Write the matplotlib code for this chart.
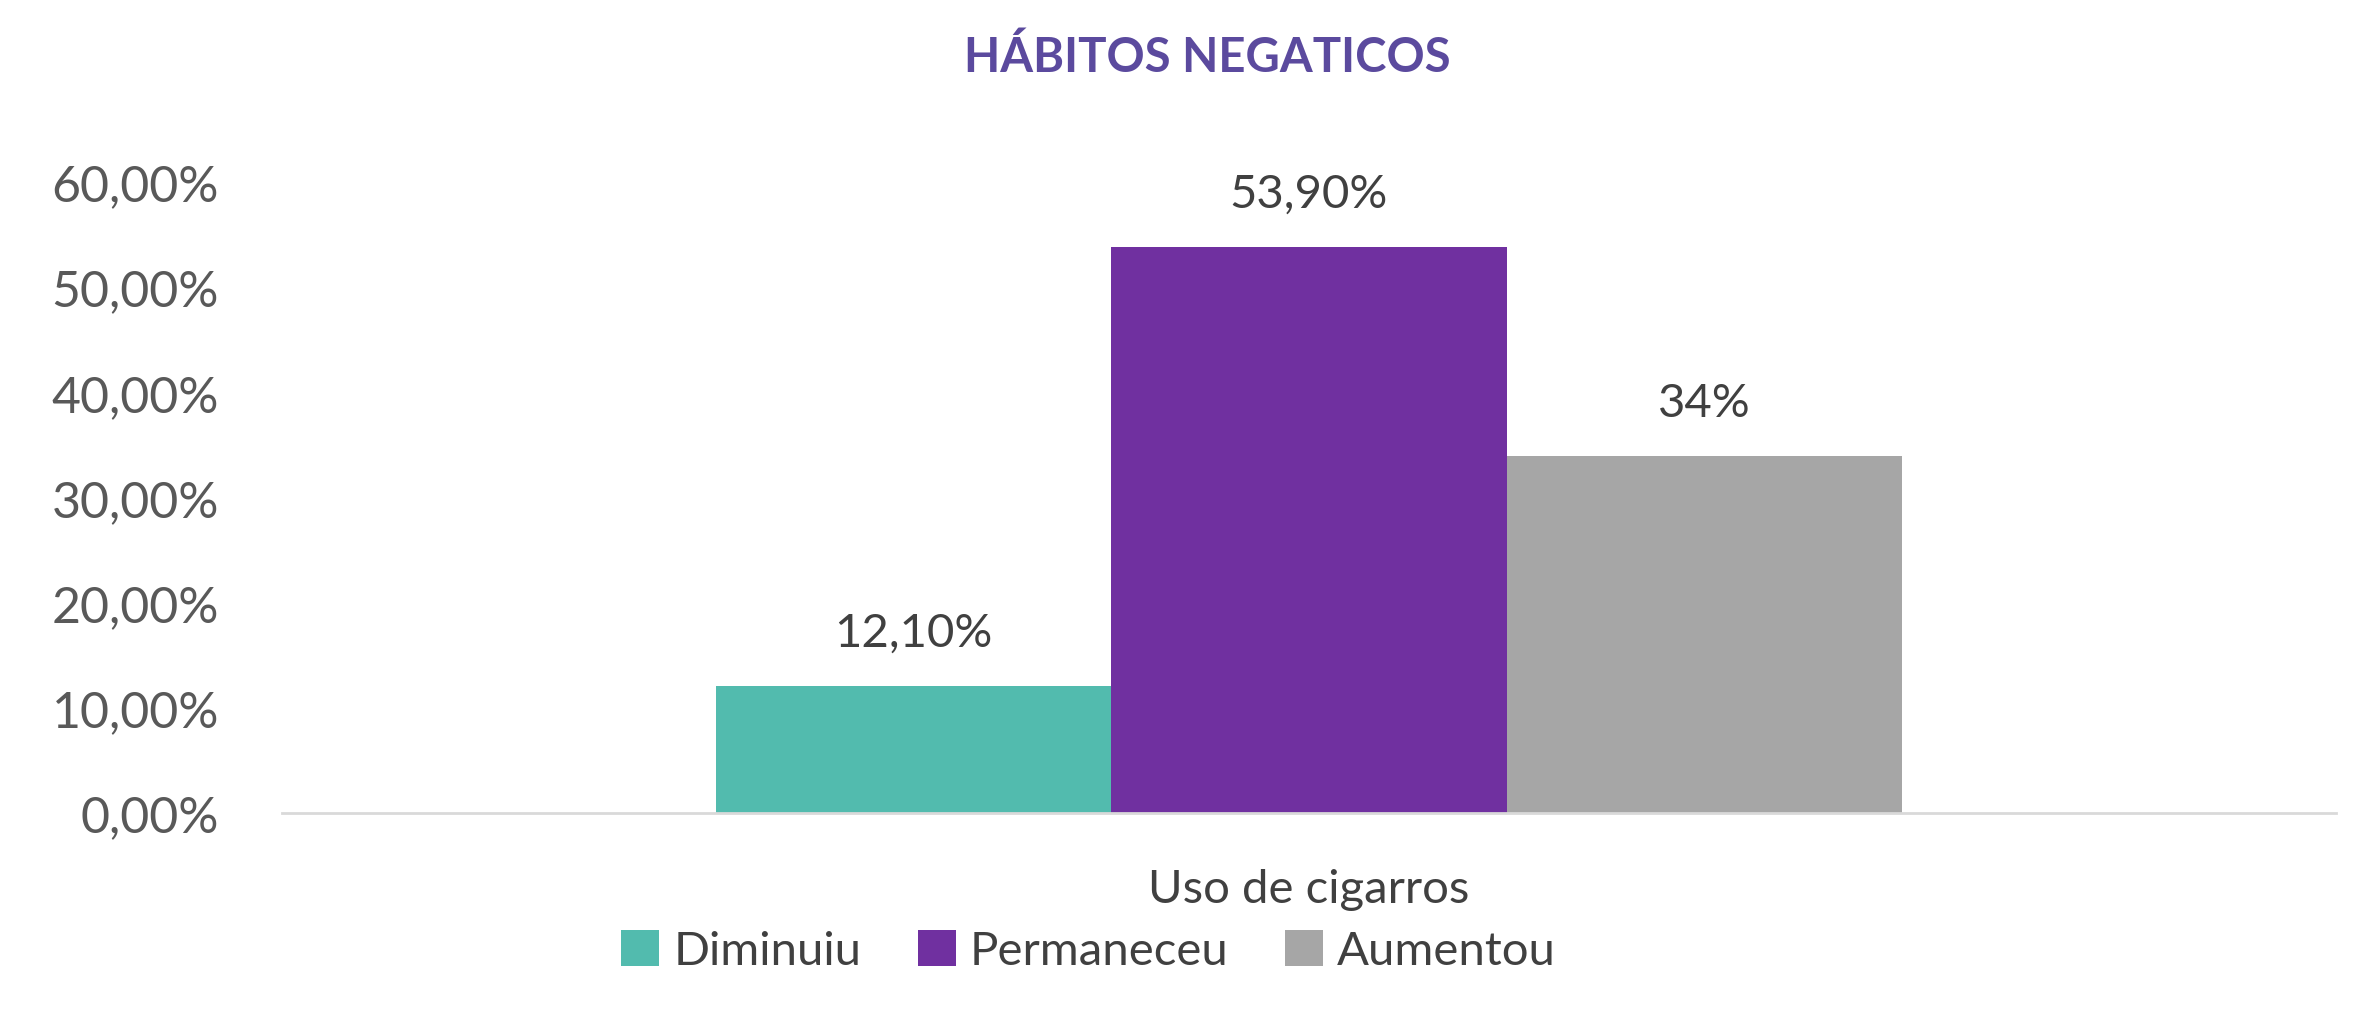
import matplotlib.pyplot as plt
import numpy as np

plt.rcParams['font.family'] = ['Lato', 'DejaVu Sans']

categoria = "Uso de cigarros"
series = ["Diminuiu", "Permaneceu", "Aumentou"]
valores = [0.121, 0.539, 0.34]
rotulos = ["12,10%", "53,90%", "34%"]
cores = ["#52BBAE", "#7030A0", "#A6A6A6"]

fig = plt.figure(figsize=(23.67, 10.23), dpi=100)
ax = fig.add_axes([0.119, 0.205, 0.868, 0.616])

largura = 0.385
pos = np.array([-1, 0, 1]) * largura
for p, v, r, c, s in zip(pos, valores, rotulos, cores, series):
    ax.bar(p, v, width=largura, color=c, label=s)
    ax.text(p, v + 0.03, r, ha='center', va='bottom', fontsize=34, color='#404040')

ax.set_xlim(-1, 1)
ax.set_ylim(0, 0.6)
ax.set_yticks(np.arange(0, 0.61, 0.1))
ax.set_yticklabels([f"{t*100:.2f}%".replace('.', ',') for t in np.arange(0, 0.61, 0.1)])
ax.tick_params(axis='y', length=0, labelsize=36, labelcolor='#595959', pad=45)
ax.set_xticks([0])
ax.set_xticklabels([categoria])
ax.tick_params(axis='x', length=0, labelsize=34, labelcolor='#404040', pad=40)
for sp in ['top', 'right', 'left']:
    ax.spines[sp].set_visible(False)
ax.spines['bottom'].set_color('#D9D9D9')
ax.spines['bottom'].set_linewidth(2)

fig.suptitle("HÁBITOS NEGATICOS", x=0.51, y=0.965, fontsize=34, fontweight='bold', color='#5B4A9E')
fig.legend(loc='center', bbox_to_anchor=(0.46, 0.07), ncol=3, frameon=False, fontsize=34,
           handlelength=0.8, handleheight=0.8, handletextpad=0.3, columnspacing=1.2,
           labelcolor='#404040')

fig.savefig("out.png")
